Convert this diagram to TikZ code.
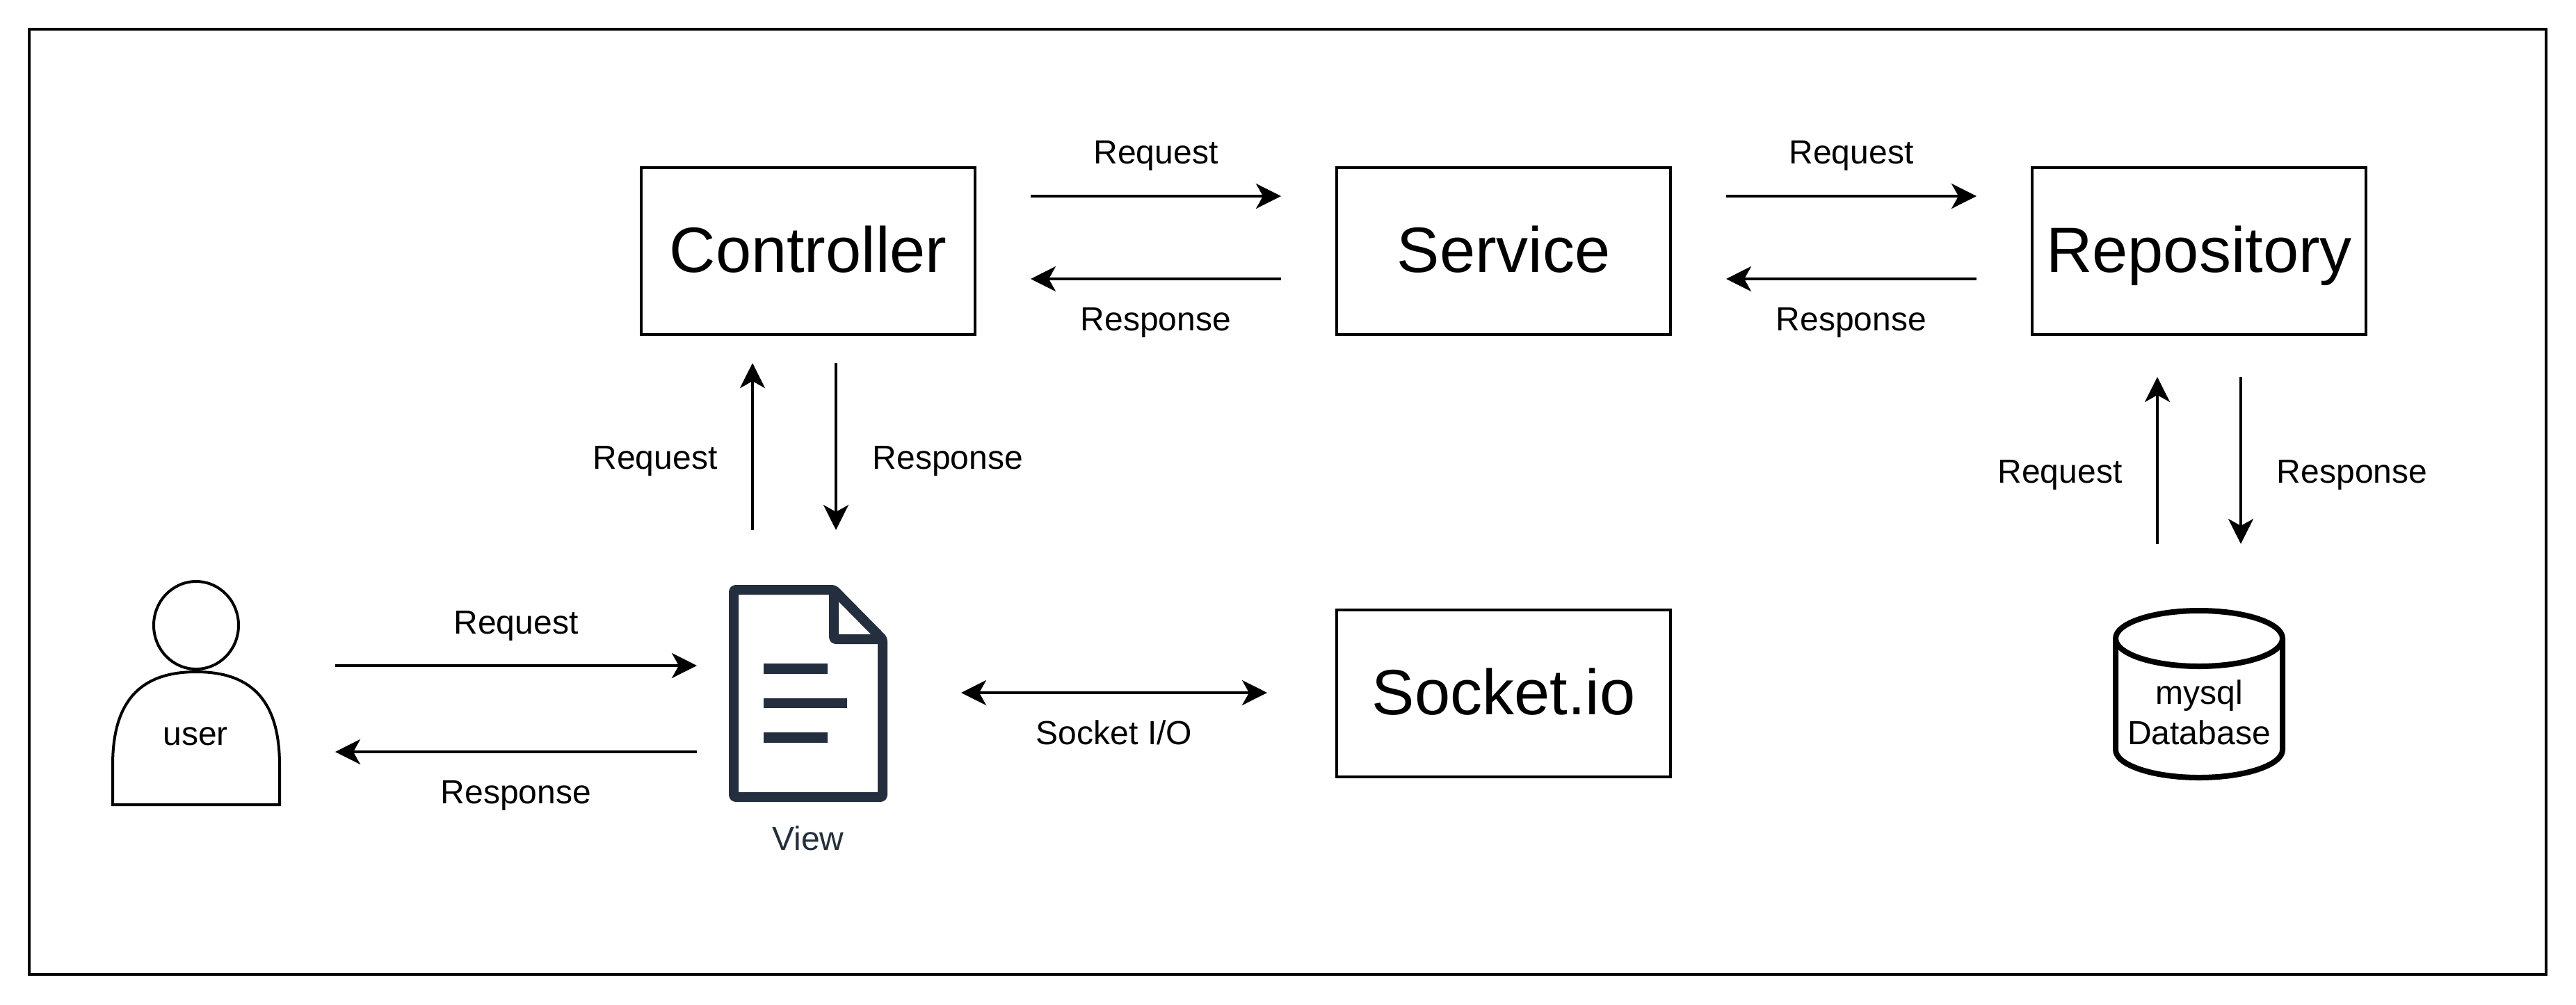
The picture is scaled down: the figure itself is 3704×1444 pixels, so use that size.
\documentclass[tikz,border=0pt]{standalone}
\usepackage{fontspec}
\setmainfont{Liberation Sans}
\usetikzlibrary{arrows.meta}
\definecolor{awsink}{HTML}{232F3E}
\tikzset{
  frame/.style={draw=black,line width=4pt,fill=white},
  bigbox/.style={draw=black,line width=4pt,fill=white,minimum width=480pt,minimum height=240pt,inner sep=0pt},
  bigtext/.style={anchor=base,inner sep=0pt,font=\fontsize{92}{110}\selectfont},
  lbl/.style={anchor=base,inner sep=0pt,font=\fontsize{48}{58}\selectfont},
  conn/.style={draw=black,line width=4pt,-{Stealth[length=36pt,width=36pt,inset=10pt]}},
  biconn/.style={draw=black,line width=4pt,{Stealth[length=36pt,width=36pt,inset=10pt]}-{Stealth[length=36pt,width=36pt,inset=10pt]}},
  person/.style={draw=black,line width=4pt,fill=white},
  docicon/.style={draw=awsink,line width=14pt,line join=round,rounded corners=3pt},
  docline/.style={fill=awsink},
  dbshape/.style={draw=black,line width=8pt,fill=white}
}
\begin{document}
\begin{tikzpicture}[x=1pt,y=-1pt]
\useasboundingbox[fill=white] (0,0) rectangle (3704,1444);
\draw[frame] (42,42) rectangle (3661,1401);
\begin{scope}[xshift=-1pt,yshift=1pt]

% boxes
\node[bigbox] (ctrl) at (1163,362) {};
\node[bigbox] (svc) at (2163,362) {};
\node[bigbox] (repo) at (3163,362) {};
\node[bigbox] (sock) at (2163,998) {};
\node[bigtext] (ctrlT) at (1163,392) {Controller};
\node[bigtext] (svcT) at (2163,392) {Service};
\node[bigtext] (repoT) at (3163,392) {Repository};
\node[bigtext] (sockT) at (2163,1028) {Socket.io};

% database
\draw[dbshape] (3043,919) -- (3043,1079) .. controls (3043,1101) and (3097,1119) .. (3163,1119)
  .. controls (3229,1119) and (3283,1101) .. (3283,1079) -- (3283,919);
\draw[dbshape] (3163,919) ellipse (120 and 40);
\node[anchor=center,inner sep=0pt,align=center,font=\fontsize{48}{58}\selectfont] (dbT) at (3163,1025) {mysql\\Database};
\end{scope}

% user
\draw[person] (282,899) ellipse (61 and 63);
\draw[person] (162,1157) -- (162,1100) .. controls (162,1010) and (200,966) .. (282,966)
  .. controls (364,966) and (402,1010) .. (402,1100) -- (402,1157) -- cycle;
\node[lbl] (userT) at (281,1071) {user};

% document icon
\draw[docicon] (1055,848) -- (1199,848) -- (1269,919) -- (1269,1146) -- (1055,1146) -- cycle;
\draw[docicon] (1199,848) -- (1199,919) -- (1269,919);
\fill[docline] (1098,954) rectangle (1190,969);
\fill[docline] (1098,1004) rectangle (1218,1018);
\fill[docline] (1098,1053) rectangle (1190,1068);
\node[lbl,text=awsink] (viewT) at (1162,1222) {View};

% connector ends
\coordinate (a1s) at (1482,282); \coordinate (a1e) at (1842,282);
\coordinate (a2s) at (1842,401); \coordinate (a2e) at (1482,401);
\coordinate (a3s) at (2482,282); \coordinate (a3e) at (2842,282);
\coordinate (a4s) at (2842,401); \coordinate (a4e) at (2482,401);
\coordinate (a5s) at (1082,762); \coordinate (a5e) at (1082,522);
\coordinate (a6s) at (1202,522); \coordinate (a6e) at (1202,762);
\coordinate (a7s) at (3102,782); \coordinate (a7e) at (3102,542);
\coordinate (a8s) at (3222,542); \coordinate (a8e) at (3222,782);
\coordinate (a9s) at (482,957); \coordinate (a9e) at (1002,957);
\coordinate (a10s) at (1002,1081); \coordinate (a10e) at (482,1081);
\coordinate (a11s) at (1382,996); \coordinate (a11e) at (1822,996);

\draw[conn] (a1s) -- (a1e);
\draw[conn] (a2s) -- (a2e);
\draw[conn] (a3s) -- (a3e);
\draw[conn] (a4s) -- (a4e);
\draw[conn] (a5s) -- (a5e);
\draw[conn] (a6s) -- (a6e);
\draw[conn] (a7s) -- (a7e);
\draw[conn] (a8s) -- (a8e);
\draw[conn] (a9s) -- (a9e);
\draw[conn] (a10s) -- (a10e);
\draw[biconn] (a11s) -- (a11e);

% labels
\node[lbl] (l1) at (1662,235) {Request};
\node[lbl] (l2) at (1662,475) {Response};
\node[lbl] (l3) at (2662,235) {Request};
\node[lbl] (l4) at (2662,475) {Response};
\node[lbl] (l5) at (942,674) {Request};
\node[lbl] (l6) at (1363,674) {Response};
\node[lbl] (l7) at (2962,694) {Request};
\node[lbl] (l8) at (3382,694) {Response};
\node[lbl] (l9) at (742,911) {Request};
\node[lbl] (l10) at (742,1155) {Response};
\node[lbl] (l11) at (1602,1070) {Socket I/O};
\end{tikzpicture}
\end{document}
